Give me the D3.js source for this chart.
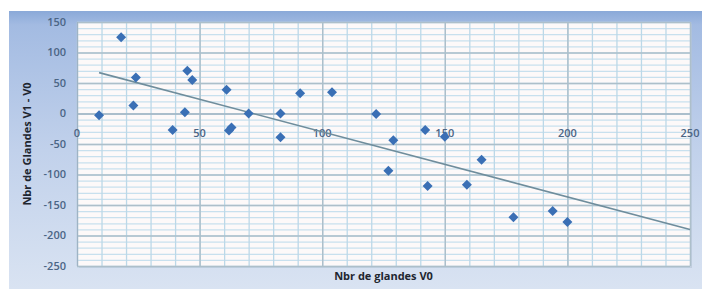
<!DOCTYPE html>
<html><head><meta charset="utf-8">
<script src="https://cdn.jsdelivr.net/npm/d3@7"></script>
<style>
html,body{margin:0;padding:0;background:#fff;}
svg{display:block;}
text{font-family:"Open Sans","Liberation Sans",sans-serif;}
</style></head>
<body>
<script>
// Data
const glandesV0 = [9,18,24,23,39,45,47,44,61,62,63,70,83,83,91,104,122,129,142,150,127,143,159,165,178,194,200];
const diffV1V0  = [-3,125,59,13,-27,70,55,2,39,-28,-23,0,0,-39,33,35,-1,-44,-27,-38,-94,-119,-117,-76,-170,-160,-178];
const trendX = [9, 250];
const trendY = [67, -190];
const xTicks = [0,50,100,150,200,250];
const yTicks = [150,100,50,0,-50,-100,-150,-200,-250];
const xTitle = "Nbr de glandes V0";
const yTitle = "Nbr de Glandes V1 - V0";

const W = 702, H = 289;
const svg = d3.select("body").append("svg").attr("width", W).attr("height", H);
const defs = svg.append("defs");
const bg = defs.append("linearGradient").attr("id","bg").attr("x1",0).attr("y1",0).attr("x2",0).attr("y2",1);
bg.append("stop").attr("offset","0").attr("stop-color","#8aa9d8");
bg.append("stop").attr("offset","0.05").attr("stop-color","#a3bbe2");
bg.append("stop").attr("offset","0.5").attr("stop-color","#c1d1eb");
bg.append("stop").attr("offset","1").attr("stop-color","#d9e3f2");

svg.append("rect").attr("x",9).attr("y",11).attr("width",W-9).attr("height",H-11).attr("fill","url(#bg)");

const x = d3.scaleLinear().domain([0,250]).range([77,690]);
const y = d3.scaleLinear().domain([-250,150]).range([266,22]);

// plot area shadow + fill
svg.append("rect").attr("x",x(0)+2).attr("y",y(150)+2).attr("width",x(250)-x(0)).attr("height",y(-250)-y(150)).attr("fill","#b4c2d4").attr("opacity",0.6);
svg.append("rect").attr("x",x(0)).attr("y",y(150)).attr("width",x(250)-x(0)).attr("height",y(-250)-y(150)).attr("fill","#fdf9f9");

const g = svg.append("g");
// minor grid
g.selectAll(".hmin").data(d3.range(-250,151,10)).join("line")
  .attr("x1",x(0)).attr("x2",x(250)).attr("y1",d=>y(d)+0.5).attr("y2",d=>y(d)+0.5)
  .attr("stroke","#c8e0ee").attr("stroke-width",1.3);
g.selectAll(".vmin").data(d3.range(0,251,10)).join("line")
  .attr("y1",y(150)).attr("y2",y(-250)).attr("x1",d=>x(d)+0.5).attr("x2",d=>x(d)+0.5)
  .attr("stroke","#bcd8e8").attr("stroke-width",1.3);
// major grid
g.selectAll(".hmaj").data(yTicks).join("line")
  .attr("x1",x(0)).attr("x2",x(250)).attr("y1",d=>y(d)+0.5).attr("y2",d=>y(d)+0.5)
  .attr("stroke","#adbfca").attr("stroke-width",1.4);
g.selectAll(".vmaj").data(xTicks).join("line")
  .attr("y1",y(150)).attr("y2",y(-250)).attr("x1",d=>x(d)+0.5).attr("x2",d=>x(d)+0.5)
  .attr("stroke","#adbfca").attr("stroke-width",1.4);
// axes lines
g.append("line").attr("x1",x(0)+0.5).attr("x2",x(0)+0.5).attr("y1",y(150)).attr("y2",y(-250)).attr("stroke","#9fb3c4");
g.append("line").attr("x1",x(0)).attr("x2",x(250)).attr("y1",y(0)+0.5).attr("y2",y(0)+0.5).attr("stroke","#9fb3c4");

// tick labels
g.selectAll(".yl").data(yTicks).join("text")
  .attr("x",66).attr("y",d=>y(d)).attr("dy","0.35em").attr("text-anchor","end")
  .attr("font-size",11).attr("font-weight",600).attr("fill","#4b6585").text(d=>d);
g.selectAll(".xl").data(xTicks).join("text")
  .attr("x",d=>x(d)).attr("y",y(0)+20).attr("dy","0.35em").attr("text-anchor","middle")
  .attr("font-size",11).attr("font-weight",600).attr("fill","#4b6585").text(d=>d);

// trend line
g.append("line").attr("x1",x(trendX[0])).attr("y1",y(trendY[0])).attr("x2",x(trendX[1])).attr("y2",y(trendY[1]))
  .attr("stroke","#6f8d9c").attr("stroke-width",1.6);

// points
const pts = glandesV0.map((v,i)=>({x:v,y:diffV1V0[i]}));
g.selectAll(".pt").data(pts).join("path")
  .attr("d","M0,-5L5,0L0,5L-5,0Z")
  .attr("transform",d=>`translate(${x(d.x)},${y(d.y)})`)
  .attr("fill","#3a6fb5");

// titles
svg.append("text").attr("x",(x(0)+x(250))/2).attr("y",276).attr("dy","0.35em").attr("text-anchor","middle")
  .attr("font-size",11).attr("font-weight",700).attr("fill","#1e2630").text(xTitle);
svg.append("text").attr("transform",`translate(27,${(y(150)+y(-250))/2}) rotate(-90)`).attr("dy","0.35em")
  .attr("text-anchor","middle").attr("font-size",11).attr("font-weight",700).attr("fill","#1e2630").text(yTitle);
</script>
</body></html>
